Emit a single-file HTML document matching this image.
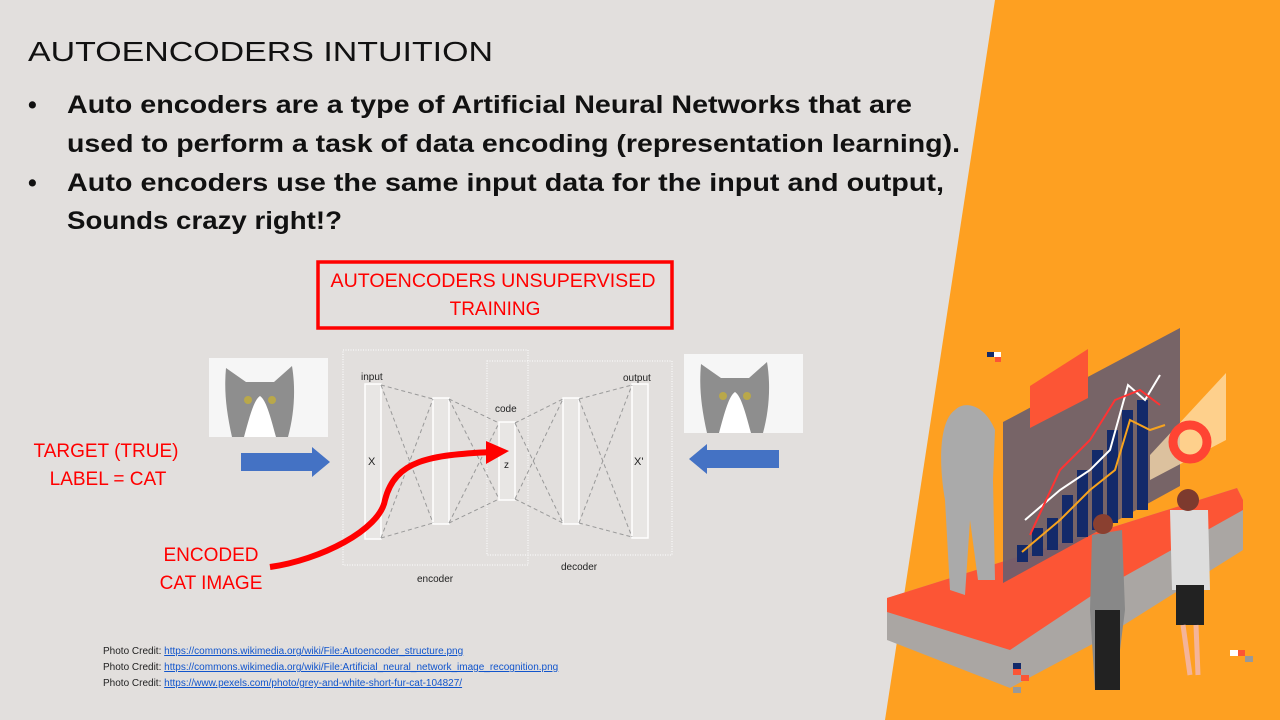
<!DOCTYPE html>
<html><head><meta charset="utf-8"><style>html,body{margin:0;padding:0;background:#e2dfdd}svg{display:block}</style></head><body>
<svg width="1280" height="720" viewBox="0 0 1280 720" xmlns="http://www.w3.org/2000/svg" font-family="Liberation Sans, sans-serif">
<rect width="1280" height="720" fill="#e2dfdd"/>
<polygon points="995,0 1280,0 1280,720 885,720" fill="#fea021"/>
<text x="28" y="61" font-size="28" fill="#111" textLength="465" lengthAdjust="spacingAndGlyphs">AUTOENCODERS INTUITION</text>
<g font-size="25" font-weight="bold" fill="#111">
<text x="28" y="113">•</text>
<text x="67" y="113" textLength="845" lengthAdjust="spacingAndGlyphs">Auto encoders are a type of Artificial Neural Networks that are</text>
<text x="67" y="152" textLength="893" lengthAdjust="spacingAndGlyphs">used to perform a task of data encoding (representation learning).</text>
<text x="28" y="191">•</text>
<text x="67" y="191" textLength="877" lengthAdjust="spacingAndGlyphs">Auto encoders use the same input data for the input and output,</text>
<text x="67" y="229" textLength="275" lengthAdjust="spacingAndGlyphs">Sounds crazy right!?</text>
</g>
<rect x="318" y="262" width="354" height="66" fill="none" stroke="#f00" stroke-width="3.5"/>
<g fill="#f00" font-size="19" text-anchor="middle">
<text x="493" y="287" textLength="325" lengthAdjust="spacingAndGlyphs">AUTOENCODERS UNSUPERVISED</text>
<text x="495" y="315">TRAINING</text>
<text x="106" y="457">TARGET (TRUE)</text>
<text x="108" y="485">LABEL = CAT</text>
<text x="211" y="561">ENCODED</text>
<text x="211" y="589">CAT IMAGE</text>
</g>
<!-- diagram -->
<g fill="none" stroke="#fff" stroke-dasharray="1,1.5" stroke-width="1">
<rect x="343" y="350" width="185" height="215"/>
<rect x="487" y="361" width="185" height="194"/>
</g>
<g fill="#e8e6e4" stroke="#fff" stroke-width="1.5">
<rect x="365" y="384" width="16" height="155"/>
<rect x="433" y="398" width="16" height="126"/>
<rect x="499" y="422" width="16" height="78"/>
<rect x="563" y="398" width="16" height="126"/>
<rect x="632" y="384" width="16" height="154"/>
</g>
<g stroke="#999" stroke-dasharray="4,3" stroke-width="1">
<line x1="381" y1="385" x2="433" y2="399"/><line x1="381" y1="538" x2="433" y2="523"/>
<line x1="381" y1="385" x2="433" y2="523"/><line x1="381" y1="538" x2="433" y2="399"/>
<line x1="449" y1="399" x2="499" y2="423"/><line x1="449" y1="523" x2="499" y2="499"/>
<line x1="449" y1="399" x2="499" y2="499"/><line x1="449" y1="523" x2="499" y2="423"/>
<line x1="515" y1="423" x2="563" y2="399"/><line x1="515" y1="499" x2="563" y2="523"/>
<line x1="515" y1="423" x2="563" y2="523"/><line x1="515" y1="499" x2="563" y2="399"/>
<line x1="579" y1="399" x2="632" y2="385"/><line x1="579" y1="523" x2="632" y2="537"/>
<line x1="579" y1="399" x2="632" y2="537"/><line x1="579" y1="523" x2="632" y2="385"/>
</g>
<g font-size="10" fill="#222">
<text x="361" y="380">input</text><text x="495" y="412">code</text><text x="623" y="381">output</text>
<text x="368" y="465" font-size="11">X</text><text x="504" y="468">z</text><text x="634" y="465" font-size="11">X'</text>
<text x="417" y="582">encoder</text><text x="561" y="570">decoder</text>
</g>
<path d="M270,567 C320,560 380,530 385,500 C395,460 430,455 492,452" fill="none" stroke="#f00" stroke-width="6"/>
<polygon points="486,441 509,451 486,464" fill="#f00"/>
<!-- blue arrows -->
<polygon points="241,453 312,453 312,447 330,462 312,477 312,471 241,471" fill="#4472c4"/>
<polygon points="779,450 707,450 707,444 689,459 707,474 707,468 779,468" fill="#4472c4"/>
<!-- cats -->
<g>
<rect x="209" y="358" width="119" height="79" fill="#f6f6f6"/>
<path d="M232,437 C226,410 224,390 226,368 L246,382 L274,382 L292,366 C296,390 294,415 288,437 Z" fill="#8e8e8e"/>
<path d="M244,437 C250,415 254,400 260,396 C266,400 270,415 276,437 Z" fill="#fff"/>
<circle cx="248" cy="400" r="4" fill="#b9a84a"/><circle cx="272" cy="400" r="4" fill="#b9a84a"/>
<rect x="684" y="354" width="119" height="79" fill="#f6f6f6"/>
<path d="M707,433 C701,406 699,386 701,364 L721,378 L749,378 L767,362 C771,386 769,411 763,433 Z" fill="#8e8e8e"/>
<path d="M719,433 C725,411 729,396 735,392 C741,396 745,411 751,433 Z" fill="#fff"/>
<circle cx="723" cy="396" r="4" fill="#b9a84a"/><circle cx="747" cy="396" r="4" fill="#b9a84a"/>
</g>
<!-- illustration -->
<path d="M887,598 L1237,488 L1243,500 L1243,550 L1100,640 L1010,688 L887,640 Z" fill="#aaa6a3"/>
<path d="M887,598 L1237,488 L1243,500 L1243,510 L1100,590 L1010,650 L887,612 Z" fill="#fc5535"/>
<path d="M1003,422 L1180,328 L1180,486 L1003,583 Z" fill="#6b5e6e" opacity="0.92"/>
<g fill="#132a6a">
<rect x="1017" y="545" width="11" height="17"/><rect x="1032" y="528" width="11" height="28"/><rect x="1047" y="518" width="11" height="32"/>
<rect x="1062" y="495" width="11" height="48"/><rect x="1077" y="470" width="11" height="67"/><rect x="1092" y="450" width="11" height="80"/>
<rect x="1107" y="430" width="11" height="93"/><rect x="1122" y="410" width="11" height="108"/><rect x="1137" y="400" width="11" height="110"/>
</g>
<polyline points="1025,520 1060,490 1090,470 1110,450 1128,385 1145,400 1160,375" fill="none" stroke="#fff" stroke-width="2"/>
<polyline points="1022,552 1060,520 1090,490 1115,470 1130,420 1150,430 1165,425" fill="none" stroke="#f7a31e" stroke-width="2"/>
<polyline points="1030,535 1060,470 1090,440 1115,400 1140,390 1160,405" fill="none" stroke="#f33" stroke-width="2"/>
<path d="M1030,386 L1088,349 L1088,398 L1030,428 Z" fill="#fc5535"/>
<path d="M1150,455 L1226,373 L1226,440 L1150,480 Z" fill="#fde0b0" opacity="0.75"/>
<circle cx="1190" cy="442" r="17" fill="none" stroke="#f43" stroke-width="9"/>
<path d="M955,410 C940,420 938,460 945,500 L950,590 L965,595 L970,520 L978,580 L995,580 L993,480 L995,430 C985,405 965,400 955,410 Z" fill="#aaa"/>
<path d="M1092,535 L1122,530 L1125,610 L1115,690 L1095,690 L1090,610 Z" fill="#888"/>
<rect x="1095" y="610" width="25" height="80" fill="#222"/>
<circle cx="1103" cy="524" r="10" fill="#8a4030"/>
<path d="M1170,510 L1208,510 L1210,590 L1172,590 Z" fill="#ddd"/>
<rect x="1176" y="585" width="28" height="40" fill="#222"/>
<path d="M1183,625 L1190,675 M1196,625 L1198,675" stroke="#f4b49a" stroke-width="5"/>
<circle cx="1188" cy="500" r="11" fill="#7d3a2e"/>
<rect x="987" y="352" width="7" height="5" fill="#132a6a"/><rect x="994" y="352" width="7" height="5" fill="#fff"/><rect x="995" y="357" width="6" height="5" fill="#fc5535"/>
<rect x="1230" y="650" width="8" height="6" fill="#fff"/><rect x="1238" y="650" width="7" height="6" fill="#fc5535"/><rect x="1245" y="656" width="8" height="6" fill="#999"/>
<rect x="1013" y="663" width="8" height="6" fill="#132a6a"/><rect x="1013" y="669" width="8" height="6" fill="#fc5535"/><rect x="1021" y="675" width="8" height="6" fill="#fc5535"/><rect x="1013" y="687" width="8" height="6" fill="#999"/>
<!-- credits -->
<g font-size="10" fill="#222">
<text x="103" y="654">Photo Credit: <tspan fill="#1155cc" text-decoration="underline">https://commons.wikimedia.org/wiki/File:Autoencoder_structure.png</tspan></text>
<text x="103" y="670">Photo Credit: <tspan fill="#1155cc" text-decoration="underline">https://commons.wikimedia.org/wiki/File:Artificial_neural_network_image_recognition.png</tspan></text>
<text x="103" y="686">Photo Credit: <tspan fill="#1155cc" text-decoration="underline">https://www.pexels.com/photo/grey-and-white-short-fur-cat-104827/</tspan></text>
</g>
</svg>
</body></html>
